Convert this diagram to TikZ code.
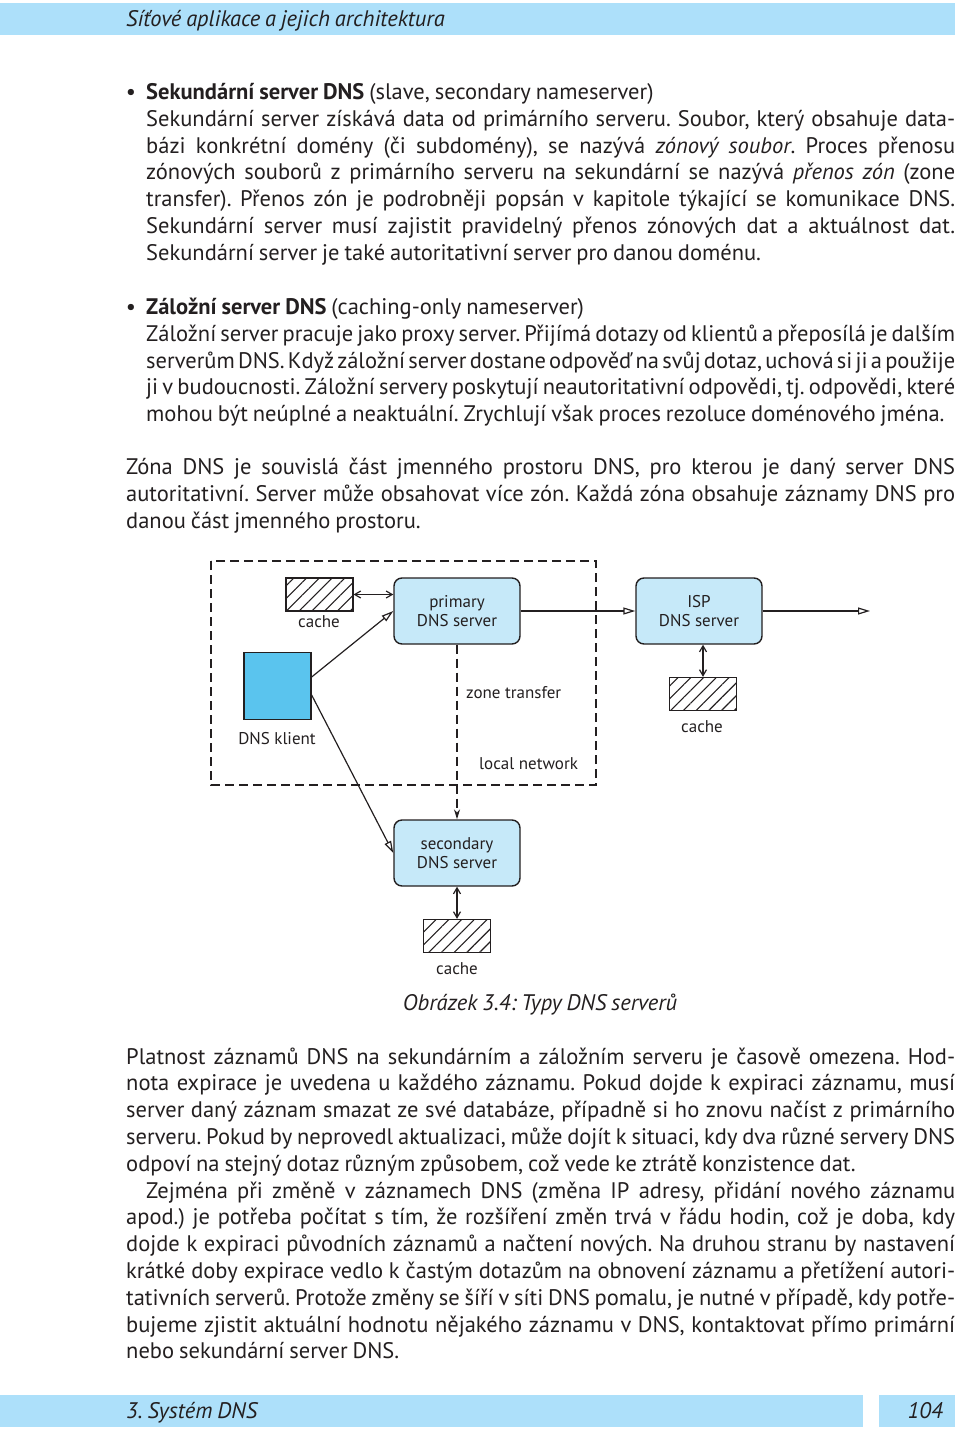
\documentclass[tikz,border=0pt]{standalone}
\usepackage{fontspec}
\setmainfont{PT Sans}
\usepackage{tikz}
\usetikzlibrary{positioning,arrows.meta,patterns.meta}

\definecolor{bandblue}{RGB}{173,224,250}
\definecolor{boxblue}{RGB}{198,233,249}
\definecolor{klientblue}{RGB}{90,196,238}
\definecolor{ink}{RGB}{35,31,32}

\newcommand\bodyfont{\fontsize{22.5}{26.8}\selectfont\frenchspacing\spaceskip=.22em plus .5em minus .1em\relax}
\newcommand\jline[2][829pt]{\hbox to #1{#2}}

\tikzset{
  body/.style={anchor=base west, inner sep=0pt, font=\bodyfont, text=ink},
  server/.style={rectangle, rounded corners=8pt, draw=ink, fill=boxblue, line width=1.4pt,
    minimum width=126pt, minimum height=66pt, align=center, text=ink,
    font=\fontsize{17}{19.5}\selectfont},
  cachebox/.style={rectangle, draw=ink, line width=1.3pt, minimum width=67pt, minimum height=33pt,
    pattern={Lines[angle=45,distance=9pt,line width=1.1pt]}, pattern color=ink},
  lbl/.style={inner sep=0pt, font=\fontsize{17}{19.5}\selectfont, text=ink},
  link/.style={line width=1.2pt, draw=ink},
  req/.style={link, -{Triangle[open,length=12pt,width=7pt]}},
  both/.style={link, {Straight Barb[length=6pt,width=7pt]}-{Straight Barb[length=6pt,width=7pt]}},
  zone/.style={link, dash pattern=on 9pt off 5pt, -{Stealth[length=10pt,width=6pt]}},
  frame/.style={draw=ink, line width=1.3pt, dash pattern=on 9pt off 5pt},
}

\begin{document}
\begin{tikzpicture}[x=1pt,y=-1pt]
  \useasboundingbox (0,0) rectangle (960,1432);

  % header and footer
  \fill[bandblue] (0,3) rectangle (955,35);
  \node[body, font=\bodyfont\itshape] (head) at (126,26) {Síťové aplikace a jejich architektura};
  \fill[bandblue] (0,1395) rectangle (863,1427);
  \fill[bandblue] (879,1395) rectangle (955,1427);
  \node[body, font=\bodyfont\itshape] (chapter) at (126,1418) {3. Systém DNS};
  \node[body, anchor=base east, font=\bodyfont\itshape] (page) at (943,1418) {104};

  % text above the figure
  \node[body, anchor=base] (dot1) at (131,99.5) {\textbullet};
  \foreach \row [count=\i from 0] in {
    {\textbf{Sekundární server DNS} (slave, secondary nameserver)},
    {\jline[809pt]{Sekundární server získává data od primárního serveru. Soubor, který obsahuje data-}},
    {\jline[809pt]{bázi konkrétní domény (či subdomény), se nazývá \textit{zónový soubor}. Proces přenosu}},
    {\jline[809pt]{zónových souborů z primárního serveru na sekundární se nazývá \textit{přenos zón} (zone}},
    {\jline[809pt]{transfer). Přenos zón je podrobněji popsán v kapitole týkající se komunikace DNS.}},
    {\jline[809pt]{Sekundární server musí zajistit pravidelný přenos zónových dat a aktuálnost dat.}},
    {Sekundární server je také autoritativní server pro danou doménu.}}
    \node[body] (sek\i) at (146,{99.5+26.8*\i}) {\row};

  \node[body, anchor=base] (dot2) at (131,314.5) {\textbullet};
  \foreach \row [count=\i from 0] in {
    {\textbf{Záložní server DNS} (caching-only nameserver)},
    {\jline[809pt]{Záložní server pracuje jako proxy server. Přijímá dotazy od klientů a přeposílá je dalším}},
    {\jline[809pt]{serverům DNS. Když záložní server dostane odpověď na svůj dotaz, uchová si ji a použije}},
    {\jline[809pt]{ji v budoucnosti. Záložní servery poskytují neautoritativní odpovědi, tj. odpovědi, které}},
    {mohou být neúplné a neaktuální. Zrychlují však proces rezoluce doménového jména.}}
    \node[body] (zal\i) at (146,{314.5+26.8*\i}) {\row};

  \foreach \row [count=\i from 0] in {
    {\jline{Zóna DNS je souvislá část jmenného prostoru DNS, pro kterou je daný server DNS}},
    {\jline{autoritativní. Server může obsahovat více zón. Každá zóna obsahuje záznamy DNS pro}},
    {danou část jmenného prostoru.}}
    \node[body] (zona\i) at (126,{474.5+26.8*\i}) {\row};

  % the figure
  \draw[frame] (211,561) rectangle (596,785);

  \node[server] (primary) at (457,611) {primary\\DNS server};
  \node[server] (isp) at (699,611) {ISP\\DNS server};
  \node[server] (secondary) at (457,853) {secondary\\DNS server};
  \node[rectangle, draw=ink, line width=1.3pt, fill=klientblue, minimum size=67pt] (klient) at (277.5,686) {};
  \node[cachebox] (cacheP) at (319.5,594.5) {};
  \node[cachebox] (cacheI) at (703,694) {};
  \node[cachebox] (cacheS) at (457,936) {};

  \node[lbl] (cacheP-t) at (319,622) {cache};
  \node[lbl] (klient-t) at (277,739) {DNS klient};
  \node[lbl, anchor=west] (zone-t) at (466,693) {zone transfer};
  \node[lbl, anchor=west] (lan-t) at (479,764) {local network};
  \node[lbl] (cacheI-t) at (702,727) {cache};
  \node[lbl] (cacheS-t) at (457,969) {cache};

  \coordinate (upstream) at (870,611);
  \draw[both] (cacheP.east) -- (cacheP.east -| primary.west);
  \draw[req] ([yshift=9pt]klient.east) -- (primary.west);
  \draw[req] ([yshift=-9pt]klient.east) -- (secondary.west);
  \draw[req] (primary.east) -- (isp.west);
  \draw[req] (isp.east) -- (upstream);
  \draw[both] (cacheI.north |- isp.south) -- (cacheI.north);
  \draw[zone] (primary.south) -- (secondary.north);
  \draw[both] (secondary.south) -- (cacheS.north);

  \node[body, anchor=base, font=\bodyfont\itshape] (caption) at (540,1010) {Obrázek 3.4: Typy DNS serverů};

  % text below the figure
  \foreach \row [count=\i from 0] in {
    {\jline{Platnost záznamů DNS na sekundárním a záložním serveru je časově omezena. Hod-}},
    {\jline{nota expirace je uvedena u každého záznamu. Pokud dojde k expiraci záznamu, musí}},
    {\jline{server daný záznam smazat ze své databáze, případně si ho znovu načíst z primárního}},
    {\jline{serveru. Pokud by neprovedl aktualizaci, může dojít k situaci, kdy dva různé servery DNS}},
    {odpoví na stejný dotaz různým způsobem, což vede ke ztrátě konzistence dat.}}
    \node[body] (plat\i) at (126,{1064+26.8*\i}) {\row};

  \node[body] (zejm0) at (146,1198) {\jline[809pt]{Zejména při změně v záznamech DNS (změna IP adresy, přidání nového záznamu}};
  \foreach \row [count=\i from 1] in {
    {\jline{apod.) je potřeba počítat s tím, že rozšíření změn trvá v řádu hodin, což je doba, kdy}},
    {\jline{dojde k expiraci původních záznamů a načtení nových. Na druhou stranu by nastavení}},
    {\jline{krátké doby expirace vedlo k častým dotazům na obnovení záznamu a přetížení autori-}},
    {\jline{tativních serverů. Protože změny se šíří v síti DNS pomalu, je nutné v případě, kdy potře-}},
    {\jline{bujeme zjistit aktuální hodnotu nějakého záznamu v DNS, kontaktovat přímo primární}},
    {nebo sekundární server DNS.}}
    \node[body] (zejm\i) at (126,{1198+26.8*\i}) {\row};
\end{tikzpicture}
\end{document}
